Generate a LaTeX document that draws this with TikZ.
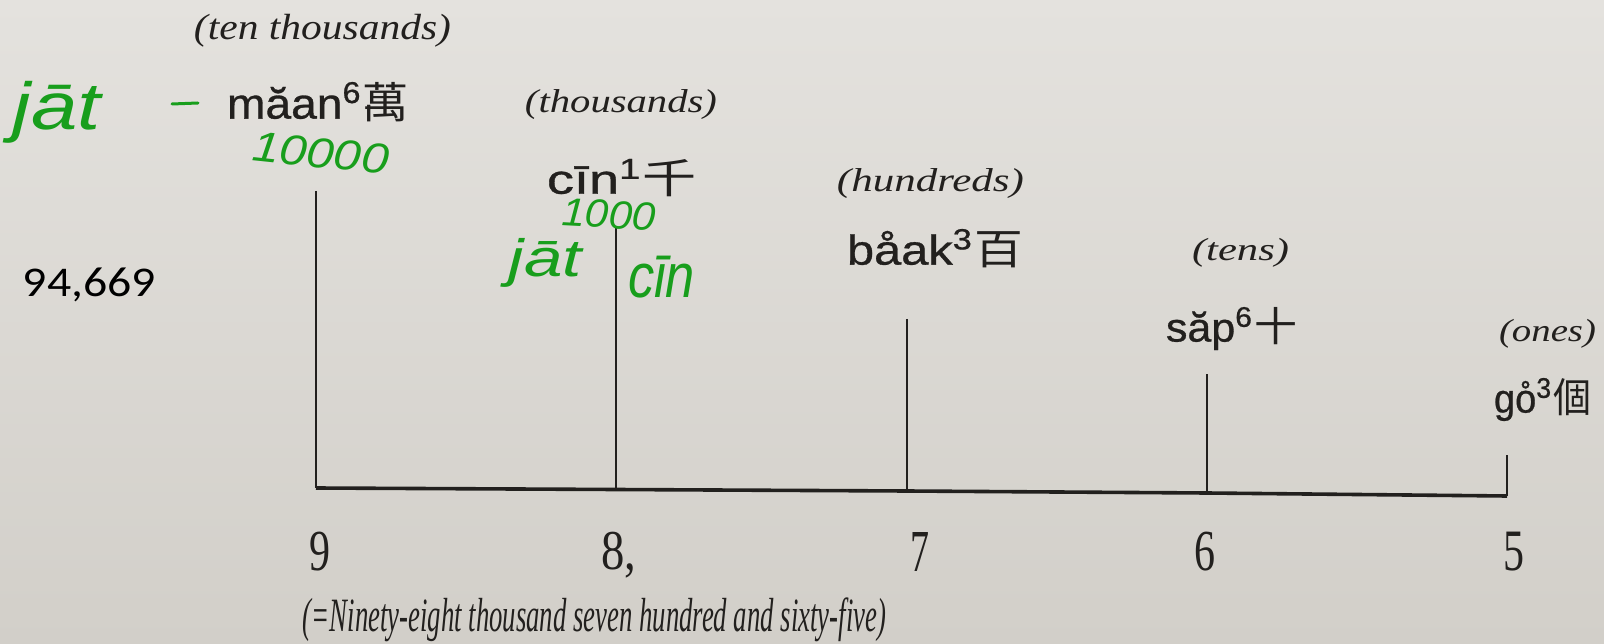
\documentclass[tikz,border=0pt]{standalone}
\usepackage{fontspec}
\usepackage{graphicx}
\setmainfont{Liberation Serif}
\newfontfamily\sansf{Liberation Sans}[FakeBold=0.7]
\newfontfamily\cjkf{Noto Sans CJK TC}
\newfontfamily\calf{Carlito}
\newfontfamily\handf{Liberation Sans}
\newcommand\fitbox[3]{\resizebox*{#1pt}{#2pt}{#3}}
\definecolor{ink}{RGB}{34,32,30}
\definecolor{pen}{RGB}{24,158,28}
\definecolor{bgtop}{RGB}{228,226,222}
\definecolor{bgbot}{RGB}{210,207,201}
\tikzset{
  lbl/.style={inner sep=0pt, text=ink, font=\itshape},
  word/.style={inner sep=0pt, text=ink, font=\sansf},
  hand/.style={inner sep=0pt, text=pen, font=\handf\itshape},
  digit/.style={inner sep=0pt, text=ink},
  rule/.style={draw=ink, line width=2.6pt},
}
\begin{document}
\begin{tikzpicture}[x=1pt,y=-1pt]
\shade[top color=bgtop, bottom color=bgbot] (0,0) rectangle (1604,644);
\useasboundingbox (0,0) rectangle (1604,644);

% place-value labels
\node[lbl] (tt) at (322.5,30.5) {\fitbox{257}{33}{(ten thousands)}};
\node[word] (maan) at (318,102) {\fitbox{182}{40}{măan\textsuperscript{6}{\cjkf 萬}}};
\node[lbl] (th) at (621,105) {\fitbox{192}{30}{(thousands)}};
\node[word] (cin) at (622,178) {\fitbox{150}{38}{cīn\textsuperscript{1}{\cjkf 千}}};
\node[lbl] (hu) at (930.5,184) {\fitbox{187}{30}{(hundreds)}};
\node[word] (baak) at (935,248.5) {\fitbox{176}{39}{båak\textsuperscript{3}{\cjkf 百}}};
\node[lbl] (te) at (1240.5,252.5) {\fitbox{97}{29}{(tens)}};
\node[word] (sap) at (1231.5,328.5) {\fitbox{131}{43}{săp\textsuperscript{6}{\cjkf 十}}};
\node[lbl] (on) at (1547.5,333.5) {\fitbox{97}{29}{(ones)}};
\node[word] (go) at (1542.5,399.5) {\fitbox{97}{43}{go̊\textsuperscript{3}{\cjkf 個}}};

% typed number
\node[inner sep=0pt, text=black, font=\calf] (num) at (89.5,285) {\fitbox{133}{34}{94,669}};

% structure lines
\coordinate (t1) at (316,191); \coordinate (b1) at (316,488);
\coordinate (t2) at (616,227); \coordinate (b2) at (616,489.5);
\coordinate (t3) at (907,319); \coordinate (b3) at (907,491);
\coordinate (t4) at (1207,374); \coordinate (b4) at (1207,493);
\coordinate (t5) at (1507,455); \coordinate (b5) at (1507,496);
\draw[rule] (t1) -- (b1);
\draw[rule] (t5) -- (b5);
\draw[rule, line width=3.6pt, line join=miter] (b1) -- (b2) -- (b3) -- (b4) -- (b5);
\draw[rule] (t2) -- (b2);
\draw[rule] (t3) -- (b3);
\draw[rule] (t4) -- (b4);

% digits
\node[digit] (d9) at (320,551.5) {\fitbox{21}{39}{9}};
\node[digit] (d8) at (618.5,555) {\fitbox{35}{46}{8,}};
\node[digit] (d7) at (919.5,551.5) {\fitbox{19}{39}{7}};
\node[digit] (d6) at (1205,551.5) {\fitbox{21}{39}{6}};
\node[digit] (d5) at (1514,551.5) {\fitbox{21}{39}{5}};

% translation
\node[lbl] (eq) at (594.5,620) {\fitbox{583}{44}{(=Ninety-eight thousand seven hundred and sixty-five)}};

% handwritten annotations
\node[hand] (jat1) at (57,112.5) {\fitbox{88}{62}{jāt}};
\coordinate (da) at (172,104); \coordinate (db) at (198,103);
\draw[pen, line width=3pt, line cap=round] (da) -- (db);
\node[hand, rotate=-6] (n10000) at (321,153) {\fitbox{136}{30}{10000}};
\node[hand, rotate=-3] (n1000) at (609,214.5) {\fitbox{94}{28}{1000}};
\node[hand] (jat2) at (545.5,262.5) {\fitbox{73}{49}{jāt}};
\node[hand] (cin2) at (661.5,277.5) {\fitbox{67}{42}{cīn}};
\end{tikzpicture}
\end{document}
